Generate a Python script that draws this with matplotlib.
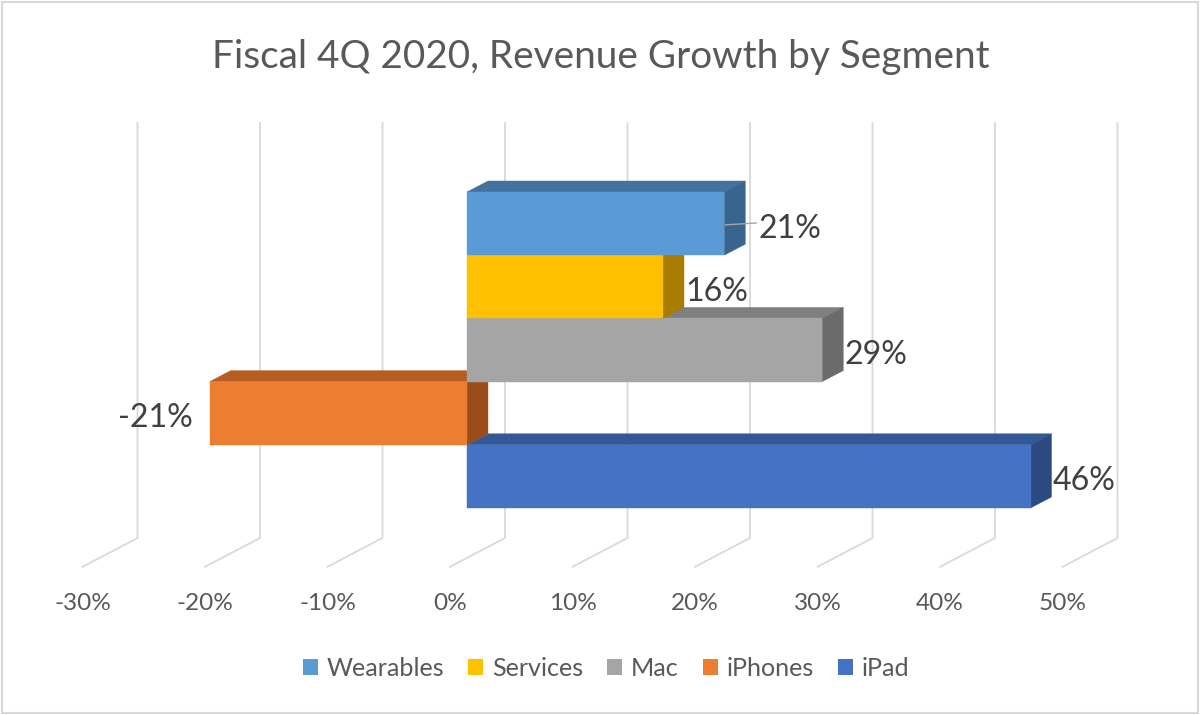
import matplotlib
matplotlib.use("Agg")
import matplotlib.pyplot as plt
from matplotlib.patches import Polygon, Rectangle, Patch

# ---------------- data ----------------
segments = ["Wearables", "Services", "Mac", "iPhones", "iPad"]
growth = [21, 16, 29, -21, 46]
value_labels = ["21%", "16%", "29%", "-21%", "46%"]
tick_values = [-30, -20, -10, 0, 10, 20, 30, 40, 50]
tick_labels = ["-30%", "-20%", "-10%", "0%", "10%", "20%", "30%", "40%", "50%"]
title = "Fiscal 4Q 2020, Revenue Growth by Segment"

# ---------------- style ----------------
front_colors = ["#5B9BD5", "#FFC000", "#A5A5A5", "#ED7D31", "#4472C4"]
top_colors = ["#4472A0", "#BF9000", "#7F7F7F", "#B65D21", "#335896"]
side_colors = ["#386590", "#A67D00", "#6B6B6B", "#9A4D1B", "#2C4A80"]
FONT = "Lato"
TXT = "#595959"
GRID = "#D9D9D9"

W, H = 1200, 715
fig = plt.figure(figsize=(W / 100, H / 100), dpi=100)
ax = fig.add_axes([0, 0, 1, 1])
ax.set_axis_off()

PX = 12.25   # pixels per percent
PY = 63.2    # pixels per category band
X_ZERO = 467
Y_TOP = 192
ax.set_xlim(-X_ZERO / PX, (W - X_ZERO) / PX)
ax.set_ylim((H - Y_TOP) / PY, -Y_TOP / PY)

DX = 21 / PX   # oblique depth shift (x) per unit depth
DY = 11 / PY   # oblique depth shift (up) per unit depth


def P(v, y, z):
    return (v + z * DX, y - z * DY)


Z_FLOOR_FRONT = -17 / 21
Z_WALL = 38 / 21
FLOOR = (538 + 38 / 21 * 11 - Y_TOP) / PY
GRID_TOP = (123 + 38 / 21 * 11 - Y_TOP) / PY


def fit_size(s, target_px, base=20):
    t = fig.text(0, 0, s, fontsize=base, family=FONT)
    r = fig.canvas.get_renderer()
    w = t.get_window_extent(r).width
    t.remove()
    return base * target_px / w


# ---------------- gridlines (wall + floor) ----------------
for t in tick_values:
    pts = [P(t, GRID_TOP, Z_WALL), P(t, FLOOR, Z_WALL), P(t, FLOOR, Z_FLOOR_FRONT)]
    ax.plot([p[0] for p in pts], [p[1] for p in pts], color=GRID, lw=1.3,
            solid_joinstyle="miter", zorder=1)

# ---------------- bars (bottom first) ----------------
for i in reversed(range(len(segments))):
    v = growth[i]
    x0, x1 = min(0, v), max(0, v)
    top = [P(x0, i, 0), P(x1, i, 0), P(x1, i, 1), P(x0, i, 1)]
    side = [P(x1, i, 0), P(x1, i, 1), P(x1, i + 1, 1), P(x1, i + 1, 0)]
    ax.add_patch(Polygon(top, closed=True, facecolor=top_colors[i],
                         edgecolor=top_colors[i], lw=0.3, zorder=2))
    ax.add_patch(Polygon(side, closed=True, facecolor=side_colors[i],
                         edgecolor=side_colors[i], lw=0.3, zorder=2))
    ax.add_patch(Rectangle((x0, i), x1 - x0, 1, facecolor=front_colors[i],
                           edgecolor=front_colors[i], lw=0.3, zorder=2))

# ---------------- data labels ----------------
lab_fs = fit_size("21%", 63)
leader_extra = {"Wearables": 1.0}
for i, (seg, v, lab) in enumerate(zip(segments, growth, value_labels)):
    y = i + 0.72
    if v >= 0:
        extra = leader_extra.get(seg, 0.0)
        x = v + DX + 0.1 + extra
        if extra:
            ax.plot([v + 0.1, v + DX + 0.1 + extra * 0.8], [i + 0.52, i + 0.49],
                    color="#A6A6A6", lw=1.0, zorder=3)
        ax.text(x, y, lab, ha="left", va="baseline", fontsize=lab_fs,
                family=FONT, color="#404040", zorder=4)
    else:
        ax.text(v - 1.4, y, lab, ha="right", va="baseline", fontsize=lab_fs,
                family=FONT, color="#404040", zorder=4)

# ---------------- axis tick labels ----------------
tick_fs = fit_size("-30%", 57)
TICK_Y = (610 - Y_TOP) / PY
for t, lab in zip(tick_values, tick_labels):
    x = P(t, 0, Z_FLOOR_FRONT)[0]
    ax.text(x, TICK_Y, lab, ha="center", va="baseline", fontsize=tick_fs,
            family=FONT, color=TXT)

# ---------------- title ----------------
title_fs = fit_size(title, 778)
fig.text(601 / W, 1 - 68 / H, title, ha="center", va="baseline",
         fontsize=title_fs, family=FONT, color=TXT)

# ---------------- legend ----------------
leg_fs = fit_size("Wearables", 118)
handles = [Patch(facecolor=c, edgecolor="none") for c in front_colors]
leg = fig.legend(handles, segments, loc="center", ncol=5,
                 bbox_to_anchor=(606 / W, 1 - 668 / H), frameon=False,
                 prop={"family": FONT, "size": leg_fs},
                 handlelength=0.6, handleheight=0.6, handletextpad=0.35,
                 columnspacing=0.95, borderaxespad=0)
for txt in leg.get_texts():
    txt.set_color(TXT)

# ---------------- chart border ----------------
fig.patches.append(Rectangle((2 / W, 2 / H), (W - 4) / W, (H - 4) / H,
                             transform=fig.transFigure, fill=False,
                             edgecolor=GRID, lw=1.5))

fig.savefig("out.png", dpi=100, facecolor="white")
